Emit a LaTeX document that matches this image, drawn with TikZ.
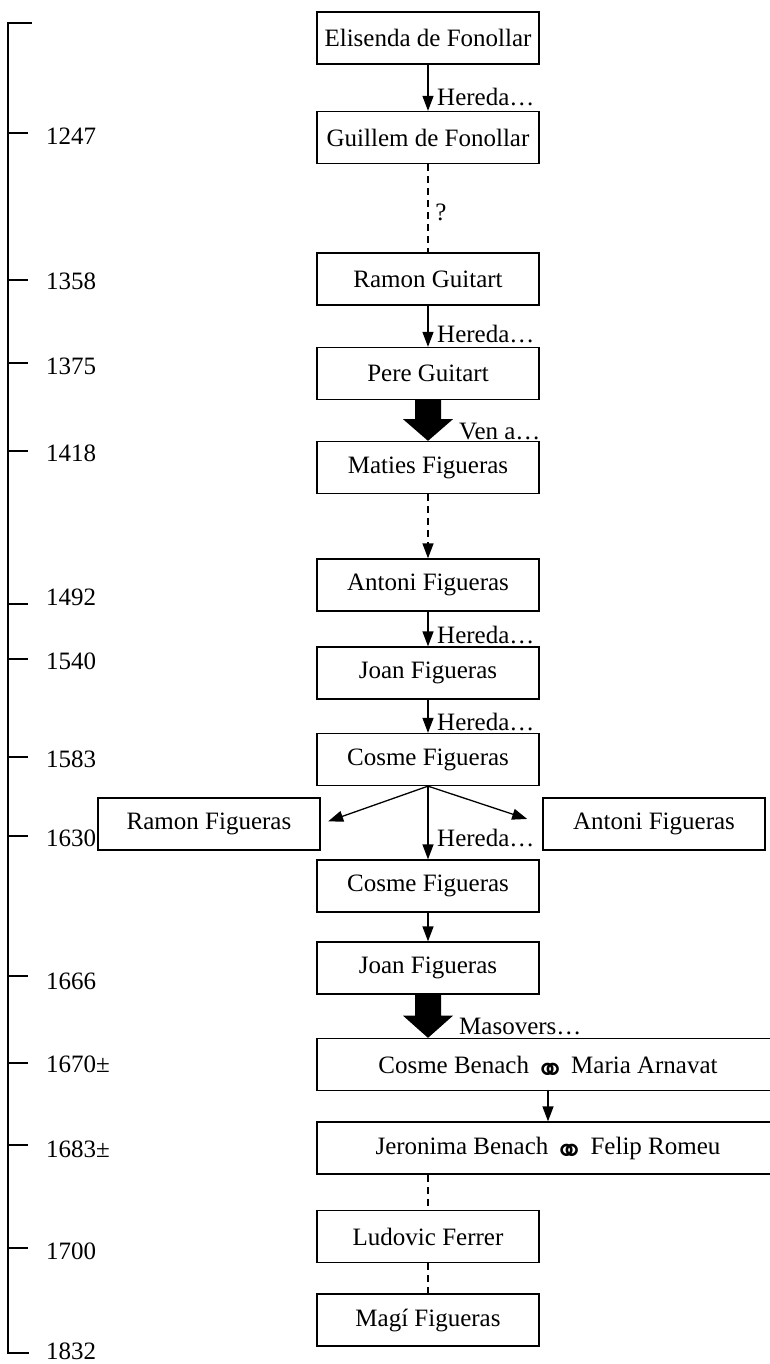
\documentclass[tikz,border=0pt]{standalone}
\usepackage{fontspec}
\setmainfont{Liberation Serif}
\newfontfamily\symfont{DejaVu Sans}
\usetikzlibrary{arrows.meta,calc}
\newcommand{\marr}{\hspace{6pt}\raisebox{-9pt}[0pt][0pt]{\symfont\fontsize{36}{36}\selectfont\bfseries ⚭}\hspace{6pt}}
\begin{document}
\begin{tikzpicture}[x=1pt,y=-1pt,
  font=\fontsize{25}{30}\selectfont,
  box/.style={draw, line width=1.3pt, minimum width=222pt, minimum height=52pt, inner sep=0pt},
  widebox/.style={box, minimum width=462pt},
  arr/.style={line width=1.3pt, -{Triangle[length=15pt,width=11pt]}},
  dsh/.style={line width=1.3pt, dash pattern=on 7pt off 5pt},
  dsharr/.style={dsh, -{Triangle[length=15pt,width=11pt]}},
  lbl/.style={anchor=base west, inner sep=0pt},
  yr/.style={anchor=west, inner sep=0pt},
  tl/.style={line width=1.5pt}]
\useasboundingbox (0,0) rectangle (770,1364);
\clip (0,0) rectangle (770,1364);

% timeline
\coordinate (ttop) at (8,23);
\coordinate (tbot) at (8,1353);
\draw[tl] (32,23) -- (ttop) -- (tbot) -- (29,1353);
\foreach \ty/\ly/\txt in {133/136/1247, 280/281/1358, 363/366/1375, 451/453/1418, 604/597/1492, 659/661/1540, 757/759/1583, 836/838/1630, 976/981/1666, 1063/1064/{1670±}, 1145/1149/{1683±}, 1248/1251/1700}{
  \draw[tl] (8,\ty) -- (28,\ty);
  \node[yr] at (46,\ly) {\txt};
}
\node[yr] (y1832) at (46,1351) {1832};

% boxes
\node[box] (elis) at (428,38) {Elisenda de Fonollar};
\node[box] (guil) at (428,137.5) {Guillem de Fonollar};
\node[box] (rguit) at (428,279) {Ramon Guitart};
\node[box] (pere) at (428,373.5) {Pere Guitart};
\node[box] (maties) at (428,467.5) {Maties Figueras};
\node[box] (antoni) at (428,585) {Antoni Figueras};
\node[box] (joan) at (428,673) {Joan Figueras};
\node[box] (cosme) at (428,759.5) {Cosme Figueras};
\node[box] (ramonF) at (209,824) {Ramon Figueras};
\node[box] (antoniF) at (654,824) {Antoni Figueras};
\node[box] (cosme2) at (428,886) {Cosme Figueras};
\node[box] (joan2) at (428,968) {Joan Figueras};
\node[widebox] (benach) at (548,1064.5) {Cosme Benach\marr Maria Arnavat};
\node[widebox] (jeron) at (548,1148) {Jeronima Benach\marr Felip Romeu};
\node[box] (ludo) at (428,1236.5) {Ludovic Ferrer};
\node[box] (magi) at (428,1320) {Magí Figueras};

% connectors
\draw[arr] (elis) -- (guil);
\node[lbl] (l1) at (437,106) {Hereda…};
\draw[dsh] (guil) -- (rguit);
\node[anchor=center, inner sep=0pt] (q) at (441,212) {?};
\draw[arr] (rguit) -- (pere);
\node[lbl] (l2) at (437,342) {Hereda…};
\fill ($(pere.south)+(-13,0)$) -- ++(0,19) -- ++(-12,0) -- (maties.north) -- ($(pere.south)+(25,19)$) -- ++(-12,0) -- ($(pere.south)+(13,0)$) -- cycle;
\node[lbl] (l3) at (459,439) {Ven a…};
\draw[dsharr] (maties) -- (antoni);
\node[lbl] (l4) at (437,643) {Hereda…};
\draw[arr] (antoni) -- (joan);
\node[lbl] (l5) at (437,730) {Hereda…};
\draw[arr] (joan) -- (cosme);
\draw[arr, shorten >=8pt] (cosme.south) -- (ramonF.east);
\draw[arr, shorten >=16pt] (cosme.south) -- (antoniF.west);
\draw[arr] (cosme) -- (cosme2);
\node[lbl] (l6) at (437,846) {Hereda…};
\draw[arr] (cosme2) -- (joan2);
\fill ($(joan2.south)+(-13,0)$) -- ++(0,21) -- ++(-12,0) -- (joan2.south |- benach.north) -- ($(joan2.south)+(25,21)$) -- ++(-12,0) -- ($(joan2.south)+(13,0)$) -- cycle;
\node[lbl] (l7) at (459,1034) {Masovers…};
\draw[arr] (benach) -- (jeron);
\draw[dsh] (ludo.north |- jeron.south) -- (ludo.north);
\draw[dsh] (ludo) -- (magi);
\end{tikzpicture}
\end{document}
